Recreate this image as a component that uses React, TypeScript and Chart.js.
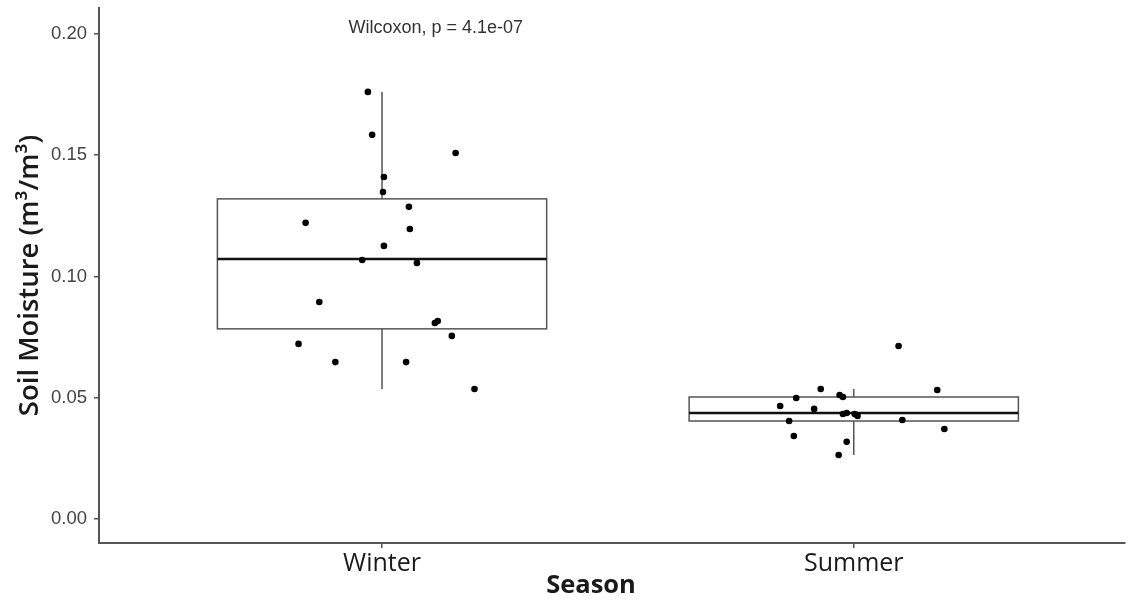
import { useEffect, useRef } from "react";
import { Chart, registerables } from "chart.js";

Chart.register(...registerables);

// ---- Data ----
const categories = ["Winter", "Summer"];
const categoryPositions = [1, 2];

// jittered horizontal positions (category units) and values of the individual observations
const winterJitterX = [0.970, 0.979, 1.156, 1.004, 1.002, 1.057, 0.838, 1.059, 1.004, 0.958, 1.074, 0.867, 1.118, 1.112, 1.148, 0.823, 0.901, 1.051, 1.196];
const winterValues = [0.1761, 0.1584, 0.1509, 0.1410, 0.1348, 0.1287, 0.1221, 0.1196, 0.1126, 0.1068, 0.1056, 0.0895, 0.0816, 0.0808, 0.0755, 0.0722, 0.0647, 0.0647, 0.0536];
const summerJitterX = [2.095, 1.930, 2.177, 1.970, 1.977, 1.878, 1.844, 1.916, 1.985, 1.977, 2.002, 2.008, 1.863, 2.103, 2.192, 1.873, 1.985, 1.968];
const summerValues = [0.0713, 0.0536, 0.0532, 0.0511, 0.0503, 0.0499, 0.0466, 0.0454, 0.0437, 0.0433, 0.0433, 0.0425, 0.0404, 0.0408, 0.0371, 0.0342, 0.0318, 0.0264];

// box statistics per category
const boxQ1 = [0.0784, 0.0404];
const boxMedian = [0.1072, 0.0437];
const boxQ3 = [0.1320, 0.0503];
const whiskerLow = [0.0536, 0.0264];
const whiskerHigh = [0.1761, 0.0536];

const yTicks = [0, 0.05, 0.1, 0.15, 0.2];
const annotationText = "Wilcoxon, p = 4.1e-07";
const xTitle = "Season";
const yTitle = "Soil Moisture (m³/m³)";

const BOX_HALF_WIDTH = 0.349;
const ANNOT_X = 1.114;
const ANNOT_Y = 0.2026;

const boxPlugin = {
  id: "boxPlugin",
  beforeDatasetsDraw(chart: any) {
    const { ctx, scales } = chart;
    const x = scales.x;
    const y = scales.y;
    ctx.save();
    categoryPositions.forEach((pos, i) => {
      const cx = x.getPixelForValue(pos);
      const left = x.getPixelForValue(pos - BOX_HALF_WIDTH);
      const right = x.getPixelForValue(pos + BOX_HALF_WIDTH);
      const yQ1 = y.getPixelForValue(boxQ1[i]);
      const yQ3 = y.getPixelForValue(boxQ3[i]);
      const yMed = y.getPixelForValue(boxMedian[i]);
      const yLo = y.getPixelForValue(whiskerLow[i]);
      const yHi = y.getPixelForValue(whiskerHigh[i]);
      ctx.strokeStyle = "#555555";
      ctx.lineWidth = 1.5;
      ctx.beginPath();
      ctx.moveTo(cx, yHi);
      ctx.lineTo(cx, yQ3);
      ctx.moveTo(cx, yQ1);
      ctx.lineTo(cx, yLo);
      ctx.stroke();
      ctx.fillStyle = "#ffffff";
      ctx.fillRect(left, yQ3, right - left, yQ1 - yQ3);
      ctx.strokeRect(left, yQ3, right - left, yQ1 - yQ3);
      ctx.strokeStyle = "#111111";
      ctx.lineWidth = 2.5;
      ctx.beginPath();
      ctx.moveTo(left, yMed);
      ctx.lineTo(right, yMed);
      ctx.stroke();
    });
    ctx.restore();
  },
  afterDraw(chart: any) {
    const { ctx, scales, chartArea } = chart;
    ctx.save();
    ctx.fillStyle = "#333333";
    ctx.font = "18px 'Liberation Sans', Arial, sans-serif";
    ctx.textAlign = "center";
    ctx.textBaseline = "middle";
    ctx.fillText(annotationText, scales.x.getPixelForValue(ANNOT_X), scales.y.getPixelForValue(ANNOT_Y));
    ctx.fillStyle = "#1a1a1a";
    ctx.font = "bold 25.5px 'Open Sans', sans-serif";
    ctx.fillText(xTitle, scales.x.getPixelForValue(1.443), chartArea.bottom + 43);
    ctx.restore();
  },
};

export default function App() {
  const canvasRef = useRef<HTMLCanvasElement | null>(null);

  useEffect(() => {
    if (!canvasRef.current) return;
    const axisGrid = {
      display: true,
      drawOnChartArea: false,
      drawTicks: true,
      tickLength: 5,
      color: "#555555",
      lineWidth: 1.5,
    };
    const axisBorder = { display: true, color: "#555555", width: 2 };
    const chart = new Chart(canvasRef.current, {
      type: "scatter",
      data: {
        datasets: [
          {
            label: categories[0],
            data: winterJitterX.map((xv, i) => ({ x: xv, y: winterValues[i] })),
            backgroundColor: "#000000",
            borderWidth: 0,
            pointRadius: 3.3,
          },
          {
            label: categories[1],
            data: summerJitterX.map((xv, i) => ({ x: xv, y: summerValues[i] })),
            backgroundColor: "#000000",
            borderWidth: 0,
            pointRadius: 3.3,
          },
        ],
      },
      options: {
        animation: false,
        responsive: true,
        maintainAspectRatio: false,
        layout: { padding: { top: 8, left: 0, right: 0, bottom: 0 } },
        plugins: { legend: { display: false }, tooltip: { enabled: false } },
        scales: {
          x: {
            type: "linear",
            min: 0.4,
            max: 2.575,
            afterBuildTicks: (s: any) => {
              s.ticks = categoryPositions.map((v) => ({ value: v }));
            },
            afterFit: (s: any) => {
              s.height = 57;
              s.paddingLeft = 0;
              s.paddingRight = 0;
            },
            ticks: {
              callback: (v: any) => {
                const idx = categoryPositions.indexOf(Number(v));
                return idx >= 0 ? categories[idx] : "";
              },
              font: { family: "'Open Sans', sans-serif", size: 25 },
              color: "#1a1a1a",
              padding: 1,
              maxRotation: 0,
              autoSkip: false,
            },
            grid: axisGrid,
            border: axisBorder,
          },
          y: {
            type: "linear",
            min: -0.0099,
            max: 0.2107,
            afterBuildTicks: (s: any) => {
              s.ticks = yTicks.map((v) => ({ value: v }));
            },
            afterFit: (s: any) => {
              s.width = 99;
              s.paddingTop = 0;
              s.paddingBottom = 0;
            },
            ticks: {
              callback: (v: any) => Number(v).toFixed(2),
              font: { family: "'Liberation Sans', Arial, sans-serif", size: 18.5 },
              color: "#444444",
              padding: 7,
            },
            grid: axisGrid,
            border: axisBorder,
            title: {
              display: true,
              text: yTitle,
              font: { family: "'Open Sans', sans-serif", size: 27.5, weight: "600" },
              color: "#1a1a1a",
              padding: { top: 14, bottom: 0 },
            },
          },
        },
      },
      plugins: [boxPlugin],
    } as any);
    return () => chart.destroy();
  }, []);

  return (
    <div style={{ position: "absolute", left: 0, top: 0, width: 1129, height: 600, background: "#ffffff" }}>
      <canvas ref={canvasRef} />
    </div>
  );
}
